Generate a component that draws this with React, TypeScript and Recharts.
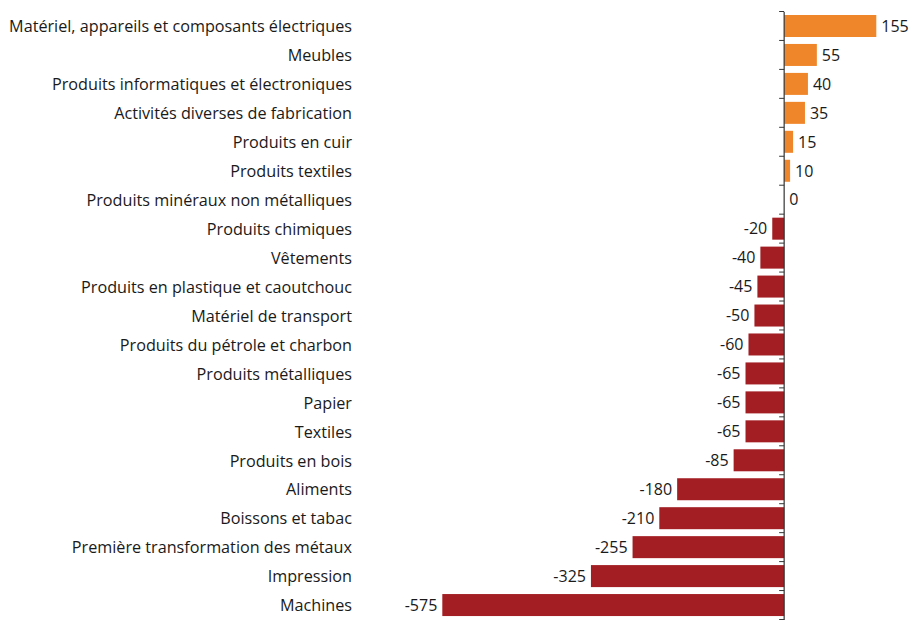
import { BarChart, Bar, XAxis, YAxis, Cell, LabelList, ReferenceLine } from 'recharts';

const categories = [
  'Matériel, appareils et composants électriques',
  'Meubles',
  'Produits informatiques et électroniques',
  'Activités diverses de fabrication',
  'Produits en cuir',
  'Produits textiles',
  'Produits minéraux non métalliques',
  'Produits chimiques',
  'Vêtements',
  'Produits en plastique et caoutchouc',
  'Matériel de transport',
  'Produits du pétrole et charbon',
  'Produits métalliques',
  'Papier',
  'Textiles',
  'Produits en bois',
  'Aliments',
  'Boissons et tabac',
  'Première transformation des métaux',
  'Impression',
  'Machines',
];

const values = [155, 55, 40, 35, 15, 10, 0, -20, -40, -45, -50, -60, -65, -65, -65, -85, -180, -210, -255, -325, -575];

const data = categories.map((name, i) => ({ name, value: values[i] }));

const POS = '#F0862A';
const NEG = '#A21E23';
const FONT = '"Open Sans", sans-serif';
const BAR = 22;

// bar plus the little axis tick at the top of its band
const BarWithTick = (props: any) => {
  const { x, y, width, height, fill, value, index } = props;
  const left = Math.min(x, x + width);
  const w = Math.abs(width);
  const zeroX = value >= 0 ? left : left + w;
  const gap = (29 - BAR) / 2;
  const top = y - gap;
  return (
    <g>
      {w > 0 && <rect x={left} y={y} width={w} height={height} fill={fill} />}
      <line x1={zeroX - 5} x2={zeroX} y1={top} y2={top} stroke="#333" strokeWidth={1} />
      {index === values.length - 1 && (
        <line x1={zeroX - 5} x2={zeroX} y1={y + height + gap} y2={y + height + gap} stroke="#333" strokeWidth={1} />
      )}
    </g>
  );
};

const ValueLabel = (props: any) => {
  const { x, y, width, height, value } = props;
  const left = Math.min(x, x + width);
  const right = Math.max(x, x + width);
  const neg = value < 0;
  return (
    <text
      x={neg ? left - 5 : right + 5}
      y={y + height / 2}
      dy="0.36em"
      textAnchor={neg ? 'end' : 'start'}
      fontFamily={FONT}
      fontSize={16}
      fill="#1a1a1a"
    >
      {value}
    </text>
  );
};

const App = () => {
  return (
    <div style={{ position: 'absolute', left: 0, top: 0, width: 910, height: 620 }}>
      <BarChart
        width={910}
        height={620}
        data={data}
        layout="vertical"
        margin={{ top: 12, right: 1, bottom: 0, left: 0 }}
        barSize={BAR}
      >
        <XAxis type="number" domain={[-700, 210]} hide />
        <YAxis
          type="category"
          dataKey="name"
          width={368}
          axisLine={false}
          tickLine={false}
          tickSize={0}
          tickMargin={16}
          interval={0}
          tick={{ fontFamily: FONT, fontSize: 16.2, fill: '#1a1a1a' }}
        />
        <Bar dataKey="value" isAnimationActive={false} shape={<BarWithTick />}>
          {data.map((d, i) => (
            <Cell key={i} fill={d.value >= 0 ? POS : NEG} />
          ))}
          <LabelList dataKey="value" content={<ValueLabel />} />
        </Bar>
        <ReferenceLine x={0} stroke="#333" strokeWidth={1.2} />
      </BarChart>
    </div>
  );
};

export default App;
